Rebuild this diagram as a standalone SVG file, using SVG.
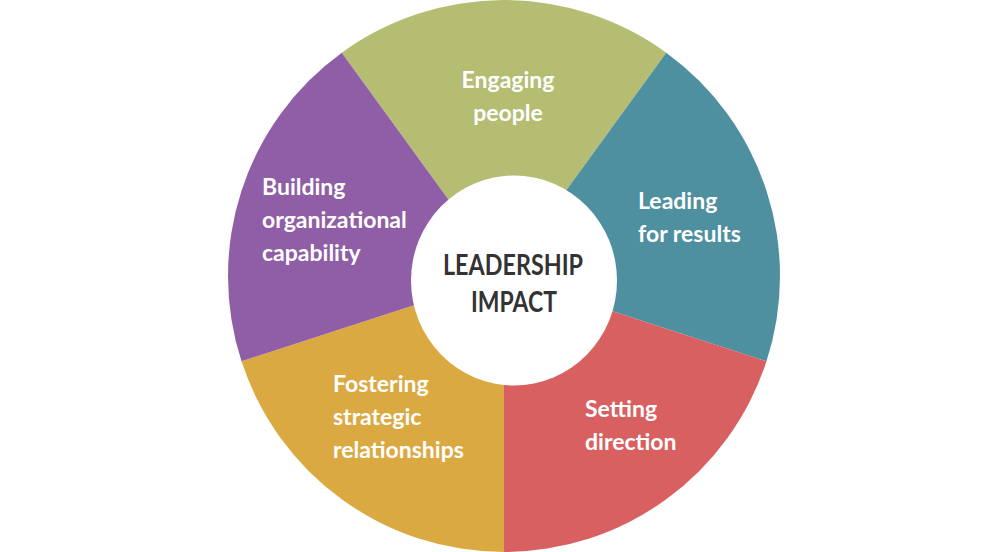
<svg xmlns="http://www.w3.org/2000/svg" width="1000" height="552" viewBox="0 0 1000 552">
<style>
.seg{stroke:none}
.lbl{font-family:Lato,"Open Sans","Liberation Sans",sans-serif;font-weight:700;font-size:23px;fill:#ffffff}
.ctr{font-family:Lato,"Open Sans","Liberation Sans",sans-serif;font-weight:700;font-size:28px;fill:#333333;text-anchor:middle}
</style>
<rect width="1000" height="552" fill="#ffffff"/>
<g id="engaging-people">
<path class="seg" fill="#B4BD72" d="M504 276 L341.77 52.71 A276 276 0 0 1 666.23 52.71 Z"/>
<text class="lbl" text-anchor="middle"><tspan x="508" y="88">Engaging</tspan><tspan x="508" y="121">people</tspan></text>
</g>
<g id="leading-for-results">
<path class="seg" fill="#4E8FA0" d="M504 276 L666.23 52.71 A276 276 0 0 1 766.49 361.29 Z"/>
<text class="lbl"><tspan x="638" y="209">Leading</tspan><tspan x="638" y="242">for results</tspan></text>
</g>
<g id="setting-direction">
<path class="seg" fill="#D96060" d="M504 276 L766.49 361.29 A276 276 0 0 1 504 552 Z"/>
<text class="lbl"><tspan x="585" y="417">Setting</tspan><tspan x="585" y="450">direction</tspan></text>
</g>
<g id="fostering-strategic-relationships">
<path class="seg" fill="#DBA942" d="M504 276 L504 552 A276 276 0 0 1 241.51 361.29 Z"/>
<text class="lbl"><tspan x="333" y="392">Fostering</tspan><tspan x="333" y="425">strategic</tspan><tspan x="333" y="458">relationships</tspan></text>
</g>
<g id="building-organizational-capability">
<path class="seg" fill="#8F5EA6" d="M504 276 L241.51 361.29 A276 276 0 0 1 341.77 52.71 Z"/>
<text class="lbl"><tspan x="262" y="195">Building</tspan><tspan x="262" y="228">organizational</tspan><tspan x="262" y="261">capability</tspan></text>
</g>
<g id="leadership-impact">
<ellipse cx="514" cy="280.5" rx="103" ry="105" fill="#ffffff"/>
<text class="ctr" x="513" y="275" textLength="140" lengthAdjust="spacingAndGlyphs">LEADERSHIP</text>
<text class="ctr" x="514" y="312" textLength="86" lengthAdjust="spacingAndGlyphs">IMPACT</text>
</g>
<g id="connectors"></g>
</svg>
